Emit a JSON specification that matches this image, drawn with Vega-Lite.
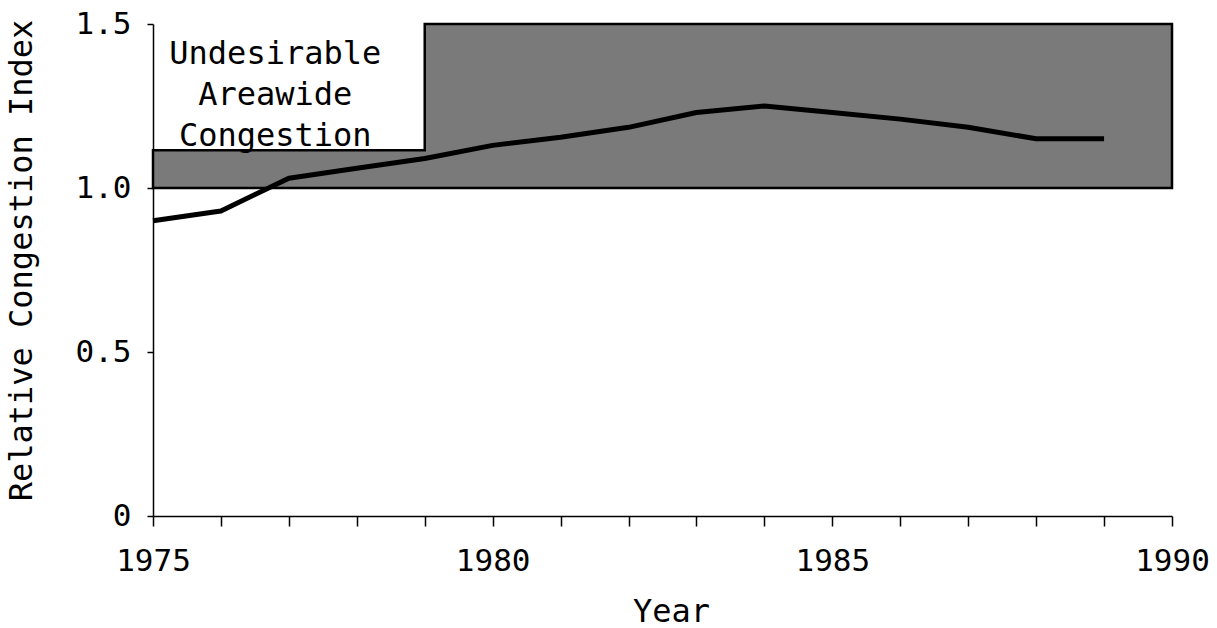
{
  "$schema": "https://vega.github.io/schema/vega-lite/v6.json",
  "width": 1019,
  "height": 492,
  "autosize": {"type": "none"},
  "padding": {"left": 153, "top": 24, "right": 45, "bottom": 112},
  "background": "white",
  "config": {
    "view": {"stroke": null},
    "font": "DejaVu Sans Mono",
    "axis": {
      "grid": false,
      "domainColor": "black",
      "domainWidth": 1.5,
      "tickColor": "black",
      "tickWidth": 1.5,
      "labelColor": "black",
      "titleColor": "black",
      "labelFont": "DejaVu Sans Mono",
      "titleFont": "DejaVu Sans Mono",
      "labelFontSize": 31,
      "titleFontSize": 32,
      "titleFontWeight": "normal"
    }
  },
  "layer": [
    {
      "data": {"values": [
        {"year": 1975, "top": 1.115},
        {"year": 1979, "top": 1.5},
        {"year": 1990, "top": 1.5}
      ]},
      "mark": {"type": "area", "interpolate": "step-after", "fill": "#7a7a7a", "fillOpacity": 1, "stroke": "black", "strokeWidth": 2.5},
      "encoding": {
        "x": {"field": "year", "type": "quantitative", "scale": {"domain": [1975, 1990], "nice": false, "zero": false},
          "axis": {
            "values": [1975,1976,1977,1978,1979,1980,1981,1982,1983,1984,1985,1986,1987,1988,1989,1990],
            "labelExpr": "datum.value % 5 === 0 ? format(datum.value, 'd') : ''",
            "tickSize": 10,
            "labelPadding": 20,
            "labelFlush": false,
            "labelOverlap": false,
            "title": "Year",
            "titlePadding": 20,
            "titleX": 518
          }},
        "y": {"field": "top", "type": "quantitative", "scale": {"domain": [0, 1.5], "nice": false},
          "axis": {
            "values": [0, 0.5, 1, 1.5],
            "labelExpr": "datum.value === 0 ? '0' : format(datum.value, '.1f')",
            "tickSize": 6,
            "labelPadding": 16,
            "title": "Relative Congestion Index",
            "titlePadding": 37,
            "titleY": 236
          }},
        "y2": {"datum": 1}
      }
    },
    {
      "data": {"values": [
        {"year": 1975, "index": 0.90},
        {"year": 1976, "index": 0.93},
        {"year": 1977, "index": 1.03},
        {"year": 1978, "index": 1.06},
        {"year": 1979, "index": 1.09},
        {"year": 1980, "index": 1.13},
        {"year": 1981, "index": 1.155},
        {"year": 1982, "index": 1.185},
        {"year": 1983, "index": 1.23},
        {"year": 1984, "index": 1.25},
        {"year": 1985, "index": 1.23},
        {"year": 1986, "index": 1.21},
        {"year": 1987, "index": 1.185},
        {"year": 1988, "index": 1.15},
        {"year": 1989, "index": 1.15}
      ]},
      "mark": {"type": "line", "color": "black", "strokeWidth": 5, "strokeJoin": "round"},
      "encoding": {
        "x": {"field": "year", "type": "quantitative"},
        "y": {"field": "index", "type": "quantitative"}
      }
    },
    {
      "data": {"values": [
        {"year": 1976.8, "value": 1.41, "label": "Undesirable\nAreawide\nCongestion"}
      ]},
      "mark": {"type": "text", "font": "DejaVu Sans Mono", "fontSize": 32, "lineBreak": "\n", "lineHeight": 41, "align": "center", "baseline": "middle", "color": "black"},
      "encoding": {
        "x": {"field": "year", "type": "quantitative"},
        "y": {"field": "value", "type": "quantitative"},
        "text": {"field": "label"}
      }
    }
  ]
}
